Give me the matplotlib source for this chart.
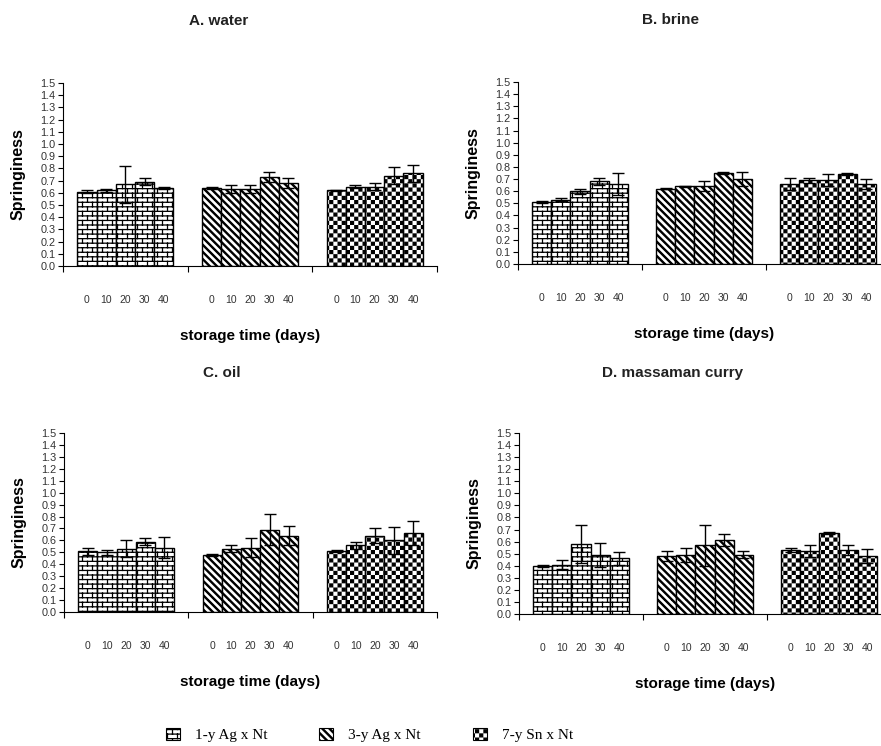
import warnings
import numpy as np
import matplotlib
matplotlib.use('Agg')
import matplotlib.pyplot as plt
from matplotlib import hatch as mhatch
from matplotlib.path import Path
from matplotlib.patches import Patch

warnings.filterwarnings('ignore')

# ---- data ----
days = ['0', '10', '20', '30', '40']
crosses = ['1-y Ag x Nt', '3-y Ag x Nt', '7-y Sn x Nt']
titles = ['A. water', 'B. brine', 'C. oil', 'D. massaman curry']

# rows = crosses, columns = storage days
water_mean = [[0.61, 0.62, 0.67, 0.69, 0.64],
              [0.64, 0.63, 0.63, 0.73, 0.68],
              [0.62, 0.65, 0.65, 0.74, 0.76]]
water_sd = [[0.01, 0.01, 0.15, 0.03, 0.01],
            [0.005, 0.03, 0.03, 0.04, 0.04],
            [0.005, 0.01, 0.03, 0.07, 0.07]]

brine_mean = [[0.51, 0.53, 0.60, 0.68, 0.66],
              [0.62, 0.64, 0.64, 0.75, 0.70],
              [0.66, 0.69, 0.69, 0.74, 0.66]]
brine_sd = [[0.01, 0.01, 0.02, 0.03, 0.09],
            [0.005, 0.005, 0.04, 0.01, 0.06],
            [0.05, 0.02, 0.05, 0.01, 0.04]]

oil_mean = [[0.51, 0.50, 0.53, 0.59, 0.54],
            [0.48, 0.53, 0.54, 0.69, 0.64],
            [0.51, 0.56, 0.64, 0.60, 0.66]]
oil_sd = [[0.03, 0.02, 0.07, 0.03, 0.09],
          [0.01, 0.03, 0.08, 0.13, 0.08],
          [0.01, 0.03, 0.06, 0.11, 0.10]]

curry_mean = [[0.40, 0.41, 0.58, 0.49, 0.46],
              [0.48, 0.49, 0.57, 0.61, 0.49],
              [0.53, 0.52, 0.67, 0.53, 0.48]]
curry_sd = [[0.01, 0.04, 0.16, 0.10, 0.05],
            [0.04, 0.06, 0.17, 0.05, 0.03],
            [0.02, 0.05, 0.01, 0.04, 0.06]]

means = [water_mean, brine_mean, oil_mean, curry_mean]
sds = [water_sd, brine_sd, oil_sd, curry_sd]

# ---- custom fill patterns (brick / stripes / checker) ----
HATCH_LW = 0.9
plt.rcParams['hatch.linewidth'] = HATCH_LW
pad = HATCH_LW / 72 / 2  # stroke half width in hatch units (1 unit = 1 inch)


class BrickHatch(mhatch.HatchPatternBase):
    rows, cols = 22, 10

    def __init__(self, hatch, density):
        self.num_vertices = 0
        if 'b' in hatch:
            self.num_vertices = 2 * self.rows + 2 * (self.rows + 1) * self.cols

    def set_vertices_and_codes(self, vertices, codes):
        pts = []
        for r in range(self.rows):
            y = (r + 0.5) / self.rows
            pts += [(0, y), (1, y)]
        for r in range(-1, self.rows):
            y0 = (r + 0.5) / self.rows
            y1 = (r + 1.5) / self.rows
            shift = 0.5 / self.cols if r % 2 else 0.0
            for c in range(self.cols):
                x = (c + 0.25) / self.cols + shift
                pts += [(x, y0), (x, y1)]
        vertices[:] = pts
        codes[0::2] = Path.MOVETO
        codes[1::2] = Path.LINETO


class StripeHatch(mhatch.HatchPatternBase):
    n = 14
    t = 0.016

    def __init__(self, hatch, density):
        self.num_vertices = 0
        if 's' in hatch:
            self.num_vertices = 5 * (2 * self.n + 1)

    def set_vertices_and_codes(self, vertices, codes):
        pts = []
        for k in range(-self.n, self.n + 1):
            c = k / self.n
            pts += [(c, 1), (c + 1, 0), (c + 1 + self.t, 0), (c + self.t, 1), (c, 1)]
        vertices[:] = pts
        codes[:] = [Path.MOVETO, Path.LINETO, Path.LINETO, Path.LINETO,
                    Path.CLOSEPOLY] * (2 * self.n + 1)


class CheckerHatch(mhatch.HatchPatternBase):
    m = 24

    def __init__(self, hatch, density):
        self.num_vertices = 0
        if 'c' in hatch:
            self.num_vertices = 5 * (self.m * self.m // 2)

    def set_vertices_and_codes(self, vertices, codes):
        pts = []
        s = 1.0 / self.m
        for i in range(self.m):
            for j in range(self.m):
                if (i + j) % 2 == 0:
                    x0, y0 = i * s + pad, j * s + pad
                    x1, y1 = (i + 1) * s - pad, (j + 1) * s - pad
                    pts += [(x0, y0), (x1, y0), (x1, y1), (x0, y1), (x0, y0)]
        vertices[:] = pts
        codes[:] = [Path.MOVETO, Path.LINETO, Path.LINETO, Path.LINETO,
                    Path.CLOSEPOLY] * (self.m * self.m // 2)


mhatch._hatch_types.extend([BrickHatch, StripeHatch, CheckerHatch])
patterns = ['b', 's', 'c']

# ---- figure ----
plt.rcParams['font.family'] = ['Liberation Sans', 'DejaVu Sans']
fig = plt.figure(figsize=(8.81, 7.46), dpi=100)

W, H = 881, 746
# axes boxes in pixels: left, top, right, bottom
boxes = [(63, 83, 437, 266), (518, 82, 890, 264),
         (64, 433, 437, 612), (519, 433, 891, 614)]
title_xy = [(219, 21), (671, 20), (222, 373), (673, 373)]

bw = 0.154
offsets = (np.arange(5) - 2) * bw
tick_grey = '#333333'

for p in range(4):
    l, t, r, b = boxes[p]
    ax = fig.add_axes([l / W, 1 - b / H, (r - l) / W, (b - t) / H])
    centers = []
    for g in range(3):
        x = g + offsets
        centers += list(x)
        ax.bar(x, means[p][g], width=bw, color='white', edgecolor='black',
               linewidth=1.0, hatch=patterns[g], zorder=2)
        ax.errorbar(x, means[p][g], yerr=sds[p][g], fmt='none', ecolor='black',
                    elinewidth=1.0, capsize=4, capthick=1.0, zorder=3)

    ax.set_xlim(-0.5, 2.5)
    ax.set_ylim(0, 1.5)
    ax.set_yticks(np.arange(0, 1.51, 0.1))
    ax.set_yticklabels([f'{v:.1f}' for v in np.arange(0, 1.51, 0.1)])
    ax.set_xticks([-0.5, 0.5, 1.5, 2.5])
    ax.set_xticklabels([])
    ax.set_xticks(centers, minor=True)
    ax.set_xticklabels(days * 3, minor=True)
    ax.tick_params(axis='x', which='major', length=4, width=0.8, direction='out')
    ax.tick_params(axis='x', which='minor', length=0, pad=21, labelsize=7.5,
                   labelcolor=tick_grey)
    ax.tick_params(axis='y', length=3.5, width=0.8, pad=2, labelsize=7.8,
                   labelcolor=tick_grey)
    for side in ['top', 'right']:
        ax.spines[side].set_visible(False)
    ax.spines['left'].set_linewidth(0.8)
    ax.spines['bottom'].set_linewidth(0.8)

    ax.set_ylabel('Springiness', fontsize=11.5, fontweight='bold')
    ax.yaxis.set_label_coords(-37 / (r - l), 0.5)
    ax.set_xlabel('storage time (days)', fontsize=11, fontweight='bold')
    ax.xaxis.set_label_coords(0.5, -63 / (b - t))

    tx, ty = title_xy[p]
    fig.text(tx / W, 1 - ty / H, titles[p], ha='center', va='center',
             fontsize=11, fontweight='bold', color='#222222')

handles = [Patch(facecolor='white', edgecolor='black', hatch=h, linewidth=0.8)
           for h in patterns]
fig.legend(handles, crosses, loc='center left',
           bbox_to_anchor=(166 / W, 1 - 735 / H), ncol=3, frameon=False,
           prop={'family': 'Liberation Serif', 'size': 11},
           handlelength=0.9, handleheight=0.9, handletextpad=1.0,
           columnspacing=3.4, borderpad=0, borderaxespad=0)

fig.savefig('out.png', dpi=100)
